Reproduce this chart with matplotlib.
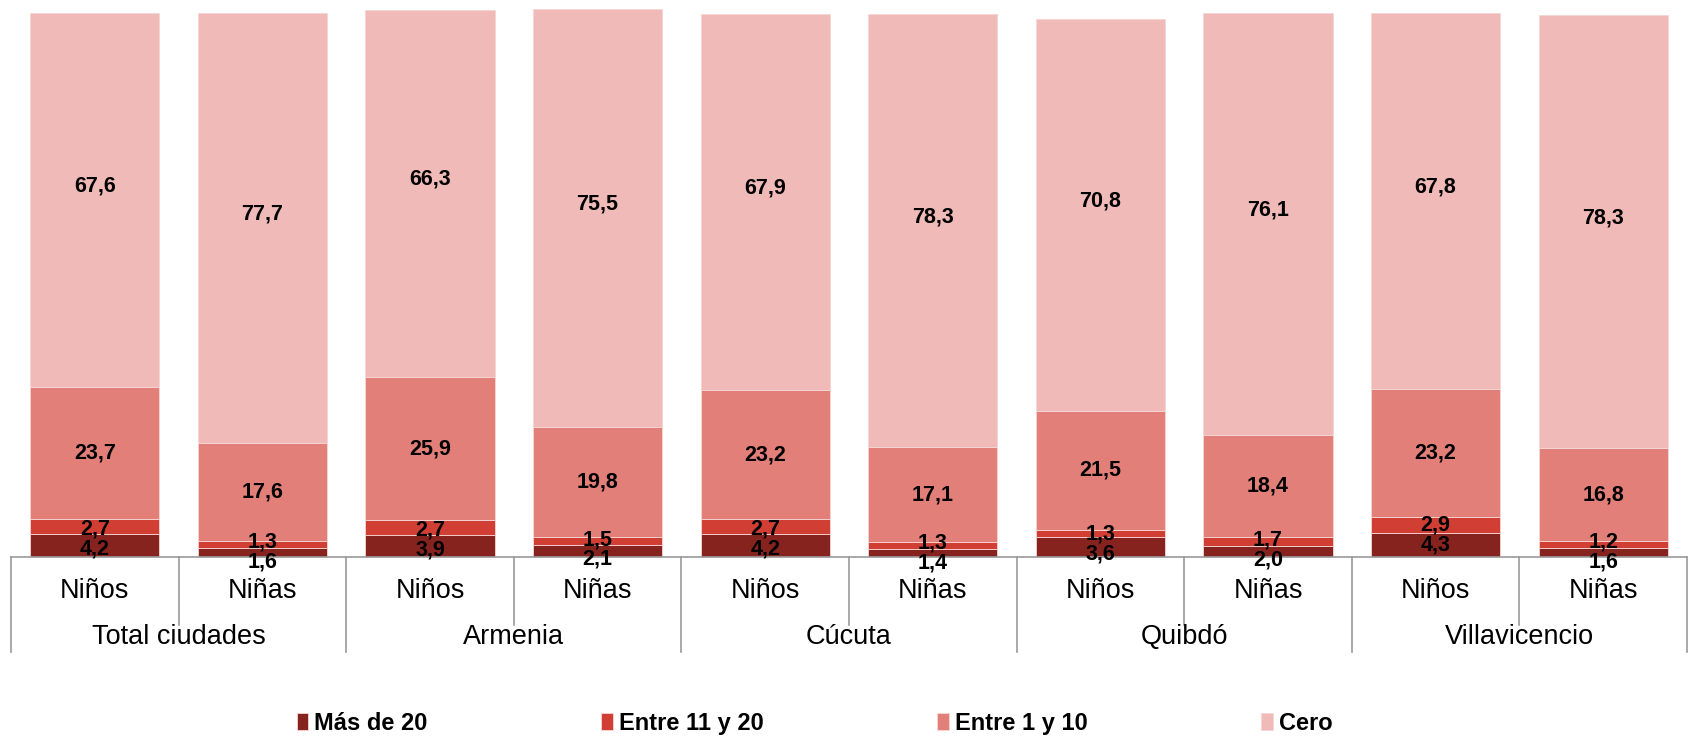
"""Stacked bars: number of cigarettes category by city and sex."""

import matplotlib

matplotlib.use("Agg")
import matplotlib.pyplot as plt
from matplotlib.transforms import blended_transform_factory

plt.rcParams["font.family"] = ["Liberation Sans", "DejaVu Sans"]

cities = ["Total ciudades", "Armenia", "Cúcuta", "Quibdó", "Villavicencio"]
sexes = ["Niños", "Niñas"]
series_names = ["Más de 20", "Entre 11 y 20", "Entre 1 y 10", "Cero"]
colors = ["#87231F", "#D13F34", "#E27F79", "#EFBAB7"]

mas_de_20 = [4.2, 1.6, 3.9, 2.1, 4.2, 1.4, 3.6, 2.0, 4.3, 1.6]
entre_11_20 = [2.7, 1.3, 2.7, 1.5, 2.7, 1.3, 1.3, 1.7, 2.9, 1.2]
entre_1_10 = [23.7, 17.6, 25.9, 19.8, 23.2, 17.1, 21.5, 18.4, 23.2, 16.8]
cero = [67.6, 77.7, 66.3, 75.5, 67.9, 78.3, 70.8, 76.1, 67.8, 78.3]

series = [mas_de_20, entre_11_20, entre_1_10, cero]
n = len(cero)
x = list(range(n))

fig = plt.figure(figsize=(16.9, 7.38), dpi=100)
ax = fig.add_axes([11 / 1690, 181 / 738, 1676 / 1690, 554 / 738])

bottoms = [0.0] * n
centers = []
for vals, col, name in zip(series, colors, series_names):
    ax.bar(x, vals, width=0.77, bottom=bottoms, color=col, label=name,
           edgecolor="#f4d6d4", linewidth=0.6)
    centers.append([b + v / 2 for b, v in zip(bottoms, vals)])
    bottoms = [b + v for b, v in zip(bottoms, vals)]

# label positions; push the two small bottom labels apart when they collide
for i in range(n):
    ys = [c[i] for c in centers]
    if ys[1] - ys[0] < 3.6:
        mid = (ys[0] + ys[1]) / 2 - 0.6
        ys[0], ys[1] = mid - 1.8, mid + 1.8
    ys[3] += 2.5  # the top labels sit a bit above the middle
    for k, vals in enumerate(series):
        ax.text(i, ys[k], f"{vals[i]:.1f}".replace(".", ","), ha="center",
                va="center", fontsize=15.5, fontweight="bold", color="black")

ax.set_xlim(-0.5, n - 0.5)
ax.set_ylim(0, 100)
ax.axis("off")

line_col = "#9a9a9a"
trans = blended_transform_factory(ax.transData, ax.transAxes)
ax.plot([-0.5, n - 0.5], [0, 0], color=line_col, lw=1.2, transform=trans,
        clip_on=False)
for b in range(n + 1):
    depth = -0.171 if b % 2 == 0 else -0.123
    ax.plot([b - 0.5, b - 0.5], [0, depth], color=line_col, lw=1.2,
            transform=trans, clip_on=False)

for i in range(n):
    ax.text(i, -0.062, sexes[i % 2], ha="center", va="center", fontsize=19.5,
            transform=trans)
for j, city in enumerate(cities):
    ax.text(2 * j + 0.5, -0.145, city, ha="center", va="center", fontsize=19.5,
            transform=trans)

fig.legend(loc="center", bbox_to_anchor=(0.482, 0.02), ncol=4, frameon=False,
           prop={"size": 17, "weight": "bold"}, handlelength=0.5,
           handleheight=0.7, handletextpad=0.25, columnspacing=7.35)

fig.savefig("out.png", dpi=100)
